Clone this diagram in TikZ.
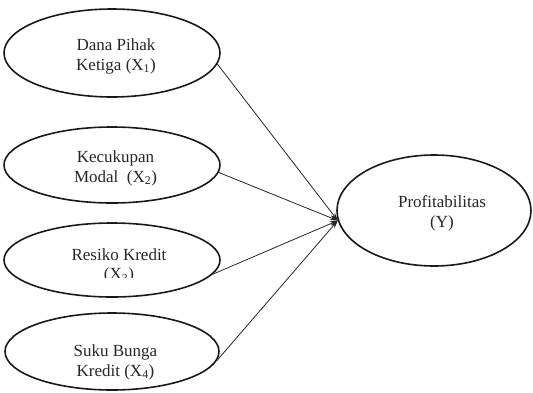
\documentclass[tikz,border=0pt]{standalone}
\usepackage{fontspec}
\setmainfont{Liberation Serif}
\usetikzlibrary{shapes.geometric,arrows.meta}
\tikzset{
  oval/.style={draw=black!90, line width=1.6pt, ellipse, inner sep=0pt},
  lbl/.style={align=center, inner sep=0pt, font=\fontsize{17}{19.5}\selectfont, text=black!85},
  link/.style={draw=black!85, line width=0.8pt, -{Stealth[length=8pt,width=5pt]}}
}
\begin{document}
\begin{tikzpicture}[x=1pt,y=-1pt]
\useasboundingbox (0,0) rectangle (533,392);
\node[oval, minimum width=216pt, minimum height=88pt] (e1) at (112,53) {};
\node[oval, minimum width=216pt, minimum height=76pt] (e2) at (112,165) {};
\node[oval, minimum width=216pt, minimum height=74pt] (e3) at (112,260) {};
\node[oval, minimum width=214pt, minimum height=77pt] (e4) at (112,351.5) {};
\node[oval, minimum width=194pt, minimum height=111pt] (p) at (434,210.5) {};
\node[lbl] (t1) at (116,56.5) {Dana Pihak\\Ketiga (X\textsubscript{1})};
\node[lbl] (t2) at (115.5,168.5) {Kecukupan\\Modal\ \ (X\textsubscript{2})};
\begin{scope}
\clip (0,240) rectangle (220,277);
\node[lbl] (t3) at (119,266) {Resiko Kredit\\(X\textsubscript{3})};
\end{scope}
\node[lbl] (t4) at (115.5,362.5) {Suku Bunga\\Kredit (X\textsubscript{4})};
\node[lbl] (tp) at (442,213.5) {Profitabilitas\\(Y)};
\draw[link] (e1.-6.4) -- (p.186);
\draw[link] (e2.-4.2) -- (p.186);
\draw[link] (e3.-8.7) -- (p.186);
\draw[link] (e4.-5.6) -- (p.186);
\end{tikzpicture}
\end{document}
